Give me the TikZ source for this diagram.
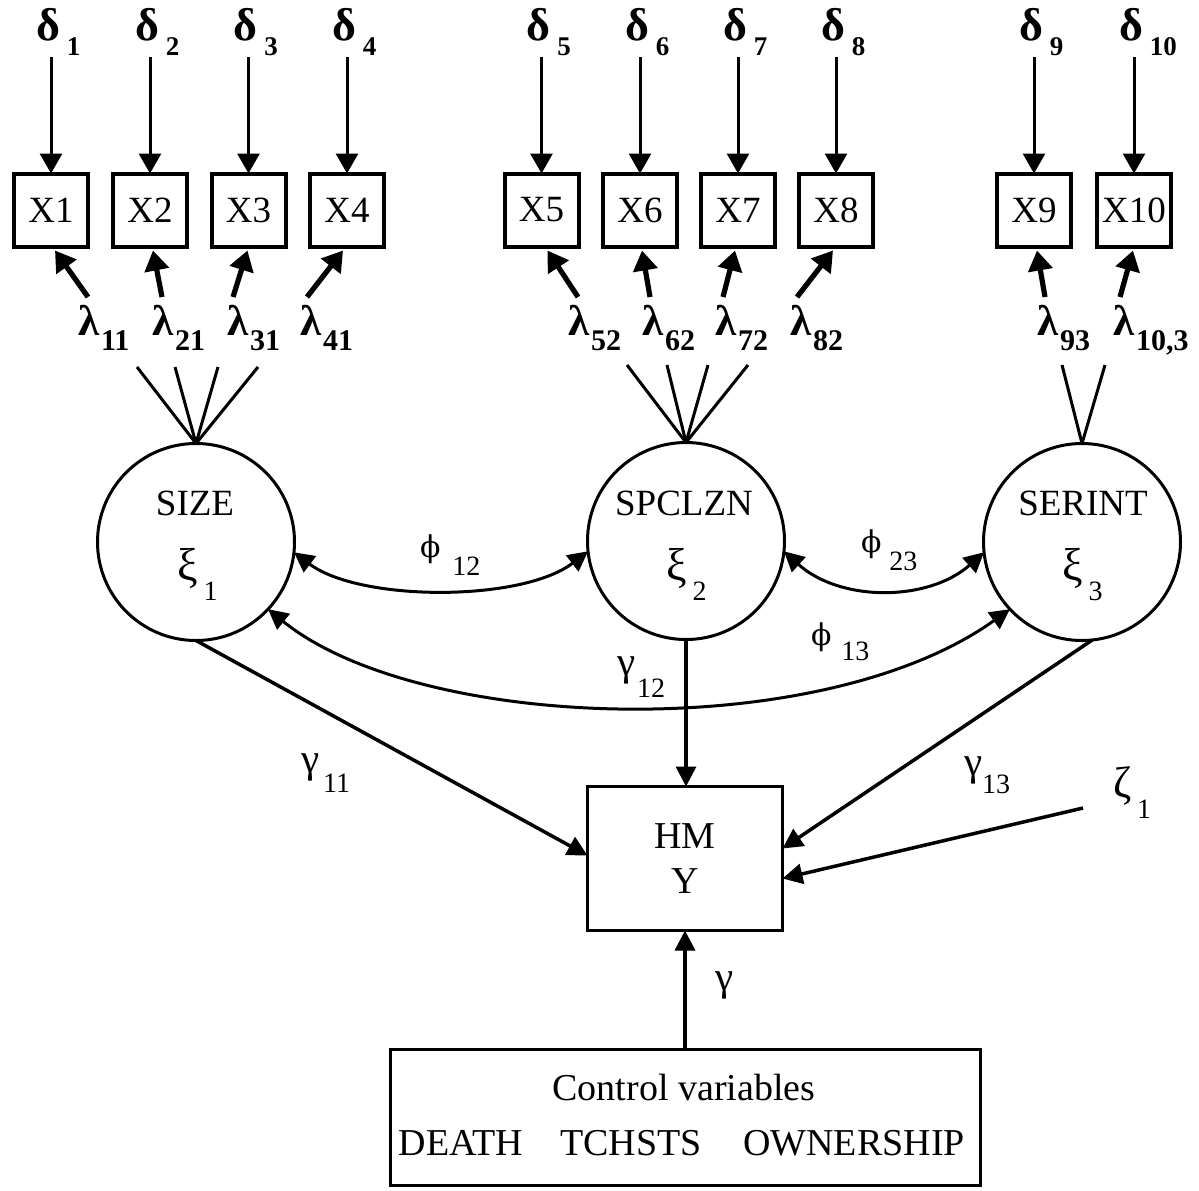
\documentclass[tikz,border=0pt]{standalone}
\usepackage{fontspec}
\setmainfont{Liberation Serif}
\newfontfamily\phifont{DejaVu Serif}
\usetikzlibrary{arrows.meta,calc}

% lowered index after a symbol: {index}{size}{gap}{drop}
\newcommand\idx[4]{\hspace{#3}\raisebox{-#4}{\fontsize{#2}{#2}\selectfont #1}}

\tikzset{
  every node/.style={inner sep=0pt,outer sep=0pt},
  obs/.style={draw,line width=2pt,minimum width=37pt,minimum height=36.5pt,
    font=\fontsize{18.5pt}{18.5pt}\selectfont},
  lat/.style={draw,circle,line width=1.5pt,minimum size=98.5pt},
  latname/.style={font=\fontsize{18.5pt}{18.5pt}\selectfont},
  deltalab/.style={anchor=base west,font=\fontsize{23pt}{23pt}\selectfont\bfseries},
  lambdalab/.style={anchor=base west,font=\fontsize{21.5pt}{21.5pt}\selectfont\bfseries},
  xilab/.style={anchor=base west,font=\fontsize{23pt}{23pt}\selectfont},
  greek/.style={anchor=base west,font=\fontsize{20.5pt}{20.5pt}\selectfont},
  philab/.style={anchor=base west,font=\fontsize{15pt}{15pt}\selectfont},
  ctext/.style={font=\fontsize{19pt}{19pt}\selectfont},
  darr/.style={line width=1.5pt,-{Triangle[length=10pt,width=11pt]}},
  larr/.style={line width=2.6pt,-{Triangle[length=10pt,width=12pt]}},
  fanline/.style={line width=1.5pt},
  garr/.style={line width=1.75pt,-{Triangle[length=10pt,width=10pt]}},
  carr/.style={line width=1.5pt,{Triangle[length=10pt,width=10pt]}-{Triangle[length=10pt,width=10pt]}},
}

\begin{document}
\begin{tikzpicture}[x=0.5pt,y=-0.5pt]
\useasboundingbox (0,0) rectangle (1199,1190);

% observed indicators with their error terms
\foreach \i/\cx in {1/51,2/150,3/248.5,4/347,5/541.5,6/640,7/738,8/836,9/1034,10/1134}{
  \node[obs] (x\i) at (\cx,210) {X\i};
  \node[deltalab] (d\i) at (\cx-15,40) {δ\idx{\i}{13.5pt}{3.5pt}{7.5pt}};
  \coordinate (d\i a) at (\cx,57);
  \draw[darr] (d\i a) -- (x\i);
}

% loadings
\foreach \i/\tx/\dx/\lx/\s in {1/88/4/78/11,2/162/3/152/21,3/233/-1/227/31,4/307/-4/300/41,
    5/578/6/568/52,6/650/2/642/62,7/723/-3/715/72,8/797/-3/790/82,
    9/1045/3/1037/93,10/1120/-1/1113/{10,3}}{
  \coordinate (l\i t) at (\tx,297);
  \draw[larr] (l\i t) -- ($(x\i.south)+(\dx,4)$);
  \node[lambdalab] (l\i) at (\lx,335) {λ\idx{\s}{15pt}{1pt}{7.5pt}};
}

% latent constructs
\node[lat] (size) at (196,542) {};
\node[lat] (spclzn) at (686,541) {};
\node[lat] (serint) at (1082,542) {};
\node[latname] (sizeT) at (195,503) {SIZE};
\node[latname] (spclznT) at (684,503) {SPCLZN};
\node[latname] (serintT) at (1083,503) {SERINT};
\node[xilab] (xi1) at (177,580) {ξ\idx{1}{14pt}{3pt}{10pt}};
\node[xilab] (xi2) at (666,580) {ξ\idx{2}{14pt}{3pt}{10pt}};
\node[xilab] (xi3) at (1062,580) {ξ\idx{3}{14pt}{3pt}{10pt}};

% fans from constructs to loadings
\foreach \x [count=\k] in {137,175,218,258}{
  \coordinate (fa\k) at (\x,367);
  \draw[fanline] (fa\k) -- (size.north);
}
\foreach \x [count=\k] in {627,667,708,748}{
  \coordinate (fb\k) at (\x,365);
  \draw[fanline] (fb\k) -- (spclzn.north);
}
\foreach \x [count=\k] in {1062,1105}{
  \coordinate (fc\k) at (\x,365);
  \draw[fanline] (fc\k) -- (serint.north);
}

% covariances
\draw[carr] (size.-6) .. controls (360,602) and (522,602) .. (spclzn.186);
\draw[carr] (spclzn.-6) .. controls (840,602) and (928,602) .. (serint.186);
\draw[carr] (size.-43) .. controls (420,732) and (820,745) .. (serint.-137);
\node[philab] (phi12) at (420,557) {{\phifont ϕ}\idx{12}{14pt}{6pt}{9pt}};
\node[philab] (phi23) at (861,552) {{\phifont ϕ}\idx{23}{14pt}{4pt}{9pt}};
\node[philab] (phi13) at (811,645) {{\phifont ϕ}\idx{13}{14pt}{5pt}{7.5pt}};

% outcome
\node[draw,line width=1.5pt,minimum width=97.5pt,minimum height=72pt,align=center,
  font=\fontsize{19pt}{22.5pt}\selectfont] (hm) at (685,858.5) {HM\\Y};

% control variables
\node[draw,line width=1.5pt,minimum width=295pt,minimum height=68pt] (ctrl) at (685.5,1117) {};
\node[ctext] (ctitle) at (684,1087) {Control variables};
\node[ctext] (cv1) at (461,1143) {DEATH};
\node[ctext] (cv2) at (631,1143) {TCHSTS};
\node[ctext] (cv3) at (854,1143) {OWNERSHIP};

% structural paths
\draw[garr] (size.south) -- ($(hm.west)+(0,-3)$);
\draw[garr] (spclzn.south) -- (spclzn.south |- hm.north);
\draw[garr] (serint.-84) -- ($(hm.east)+(0,-10)$);
\coordinate (zetaend) at (1083,808);
\draw[garr] (zetaend) -- ($(hm.east)+(0,20)$);
\draw[garr] (ctrl.north -| hm.south) -- (hm.south);

\node[greek] (g11) at (301,772) {γ\idx{11}{14pt}{2pt}{10pt}};
\node[greek] (g12) at (617,675) {γ\idx{12}{14pt}{1pt}{11pt}};
\node[greek] (g13) at (964,775) {γ\idx{13}{14pt}{0pt}{9pt}};
\node[greek,font=\fontsize{22pt}{22pt}\selectfont] (z1) at (1113,797) {ζ\idx{1}{14pt}{3pt}{10.5pt}};
\node[greek] (g0) at (715,990) {γ};
\end{tikzpicture}
\end{document}
